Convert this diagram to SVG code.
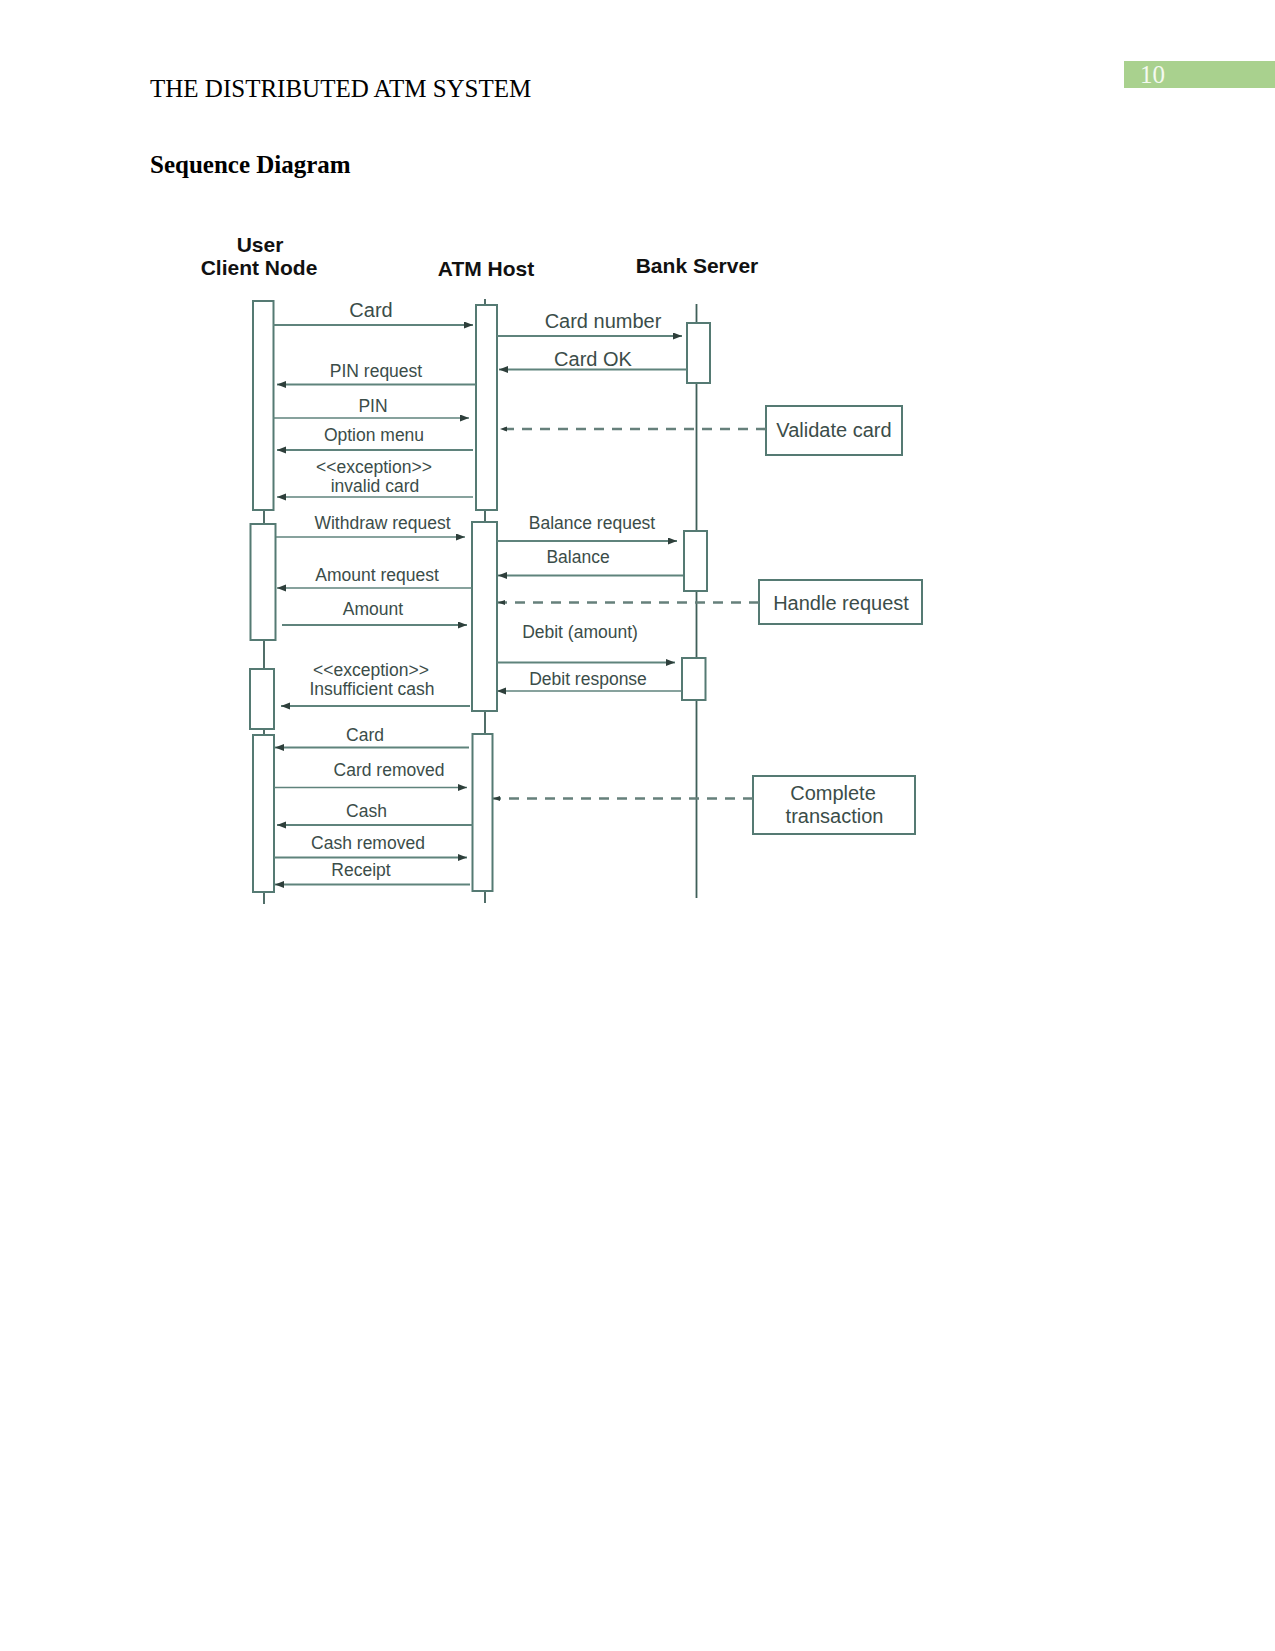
<svg xmlns="http://www.w3.org/2000/svg" width="1275" height="1651" viewBox="0 0 1275 1651">
<style>
.page{font-family:"Liberation Serif","Times New Roman",serif;font-size:25px;fill:#000}
.hd{font-family:"Liberation Sans",Arial,sans-serif;font-weight:bold;font-size:21px;fill:#111;text-anchor:middle}
.lb{font-family:"Liberation Sans",Arial,sans-serif;font-size:17.5px;fill:#3b4d49;text-anchor:middle}
.lg{font-family:"Liberation Sans",Arial,sans-serif;font-size:20px;fill:#3b4d49;text-anchor:middle}
.life{stroke:#3f5f59;stroke-width:1.8;fill:none}
.bar{fill:#fff;stroke:#557a73;stroke-width:2}
.note{fill:#fff;stroke:#557a73;stroke-width:2}
.msg{stroke:#5f837c;stroke-width:2;fill:none;marker-end:url(#ah)}
.thin{stroke-width:1.4}
.dash{stroke:#66807b;stroke-width:2.6;stroke-dasharray:10 8;fill:none;marker-end:url(#ahs)}
</style>
<defs>
<marker id="ah" markerUnits="userSpaceOnUse" markerWidth="10" markerHeight="8" refX="9" refY="3.5" orient="auto">
<path d="M0,0 L9,3.5 L0,7 Z" fill="#2e3f3b"/>
</marker>
<marker id="ahs" markerUnits="userSpaceOnUse" markerWidth="8" markerHeight="6" refX="7" refY="2.5" orient="auto">
<path d="M0,0 L7,2.5 L0,5 Z" fill="#2e3f3b"/>
</marker>
</defs>
<rect width="1275" height="1651" fill="#fff"/>
<g id="page-header">
<rect x="1124" y="61" width="151" height="27" fill="#a9d18e"/>
<text x="1140" y="83" class="page" style="fill:#f4f9f0">10</text>
<text x="150" y="97" class="page">THE DISTRIBUTED ATM SYSTEM</text>
<text x="150" y="173" class="page" font-weight="bold">Sequence Diagram</text>
</g>
<g id="user-client-node">
<text x="260" y="252" class="hd">User</text>
<text x="259" y="275" class="hd">Client Node</text>
<line x1="264" y1="301" x2="264" y2="904" class="life"/>
<rect x="253" y="301" width="20.5" height="209" class="bar"/>
<rect x="250.5" y="524" width="25" height="116" class="bar"/>
<rect x="250" y="669" width="24" height="60" class="bar"/>
<rect x="253" y="735" width="21" height="157" class="bar"/>
</g>
<g id="atm-host">
<text x="486" y="276" class="hd">ATM Host</text>
<line x1="485" y1="299" x2="485" y2="903" class="life"/>
<rect x="476" y="305" width="21" height="205" class="bar"/>
<rect x="472" y="522" width="25" height="189" class="bar"/>
<rect x="472.5" y="734" width="20" height="157" class="bar"/>
</g>
<g id="bank-server">
<text x="697" y="273" class="hd">Bank Server</text>
<line x1="696.5" y1="304" x2="696.5" y2="898" class="life"/>
<rect x="687" y="323" width="23" height="60" class="bar"/>
<rect x="684" y="531" width="23" height="60" class="bar"/>
<rect x="682" y="658" width="23.5" height="42" class="bar"/>
</g>
<g id="note-validate-card">
<rect x="766" y="406" width="136" height="49" class="note"/>
<text x="834" y="437" class="lg">Validate card</text>
</g>
<g id="note-handle-request">
<rect x="759" y="580" width="163" height="44" class="note"/>
<text x="841" y="610" class="lg">Handle request</text>
</g>
<g id="note-complete-transaction">
<rect x="753" y="776" width="162" height="58" class="note"/>
<text x="833" y="800" class="lg">Complete</text>
<text x="834.5" y="823" class="lg">transaction</text>
</g>
<g id="connectors">
<line x1="273" y1="325" x2="473" y2="325" class="msg"/>
<text x="371" y="317" class="lg">Card</text>
<line x1="497" y1="336" x2="682" y2="336" class="msg"/>
<text x="603" y="328" class="lg">Card number</text>
<line x1="687" y1="369.5" x2="499" y2="369.5" class="msg"/>
<text x="593" y="366" class="lg">Card OK</text>
<line x1="476" y1="384.5" x2="277" y2="384.5" class="msg"/>
<text x="376" y="377" class="lb">PIN request</text>
<line x1="273" y1="418" x2="469" y2="418" class="msg thin"/>
<text x="373" y="412" class="lb">PIN</text>
<line x1="473" y1="450" x2="277" y2="450" class="msg"/>
<text x="374" y="441" class="lb">Option menu</text>
<line x1="473" y1="497" x2="277" y2="497" class="msg thin"/>
<text x="374" y="473" class="lb">&lt;&lt;exception&gt;&gt;</text>
<text x="375" y="492" class="lb">invalid card</text>
<line x1="766" y1="429" x2="500" y2="429" class="dash"/>
<line x1="276" y1="537" x2="465" y2="537" class="msg thin"/>
<text x="382.5" y="529" class="lb">Withdraw request</text>
<line x1="497" y1="541" x2="677" y2="541" class="msg"/>
<text x="592" y="529" class="lb">Balance request</text>
<line x1="683" y1="575.5" x2="498" y2="575.5" class="msg"/>
<text x="578" y="563" class="lb">Balance</text>
<line x1="472" y1="588" x2="277" y2="588" class="msg thin"/>
<text x="377" y="581" class="lb">Amount request</text>
<line x1="759" y1="602.5" x2="498" y2="602.5" class="dash"/>
<line x1="282" y1="625" x2="467" y2="625" class="msg"/>
<text x="373" y="615" class="lb">Amount</text>
<line x1="497" y1="662.5" x2="675" y2="662.5" class="msg"/>
<text x="580" y="638" class="lb">Debit (amount)</text>
<line x1="682" y1="691" x2="497" y2="691" class="msg thin"/>
<text x="588" y="685" class="lb">Debit response</text>
<line x1="470" y1="706" x2="281" y2="706" class="msg"/>
<text x="371" y="676" class="lb">&lt;&lt;exception&gt;&gt;</text>
<text x="372" y="695" class="lb">Insufficient cash</text>
<line x1="469" y1="747.5" x2="275" y2="747.5" class="msg"/>
<text x="365" y="741" class="lb">Card</text>
<line x1="274" y1="787.5" x2="467" y2="787.5" class="msg thin"/>
<text x="389" y="776" class="lb">Card removed</text>
<line x1="753" y1="798.5" x2="493" y2="798.5" class="dash"/>
<line x1="473" y1="825" x2="277" y2="825" class="msg"/>
<text x="366.5" y="817" class="lb">Cash</text>
<line x1="274" y1="857.5" x2="467" y2="857.5" class="msg"/>
<text x="368" y="849" class="lb">Cash removed</text>
<line x1="470" y1="884.5" x2="275" y2="884.5" class="msg"/>
<text x="361" y="876" class="lb">Receipt</text>
</g>
</svg>
